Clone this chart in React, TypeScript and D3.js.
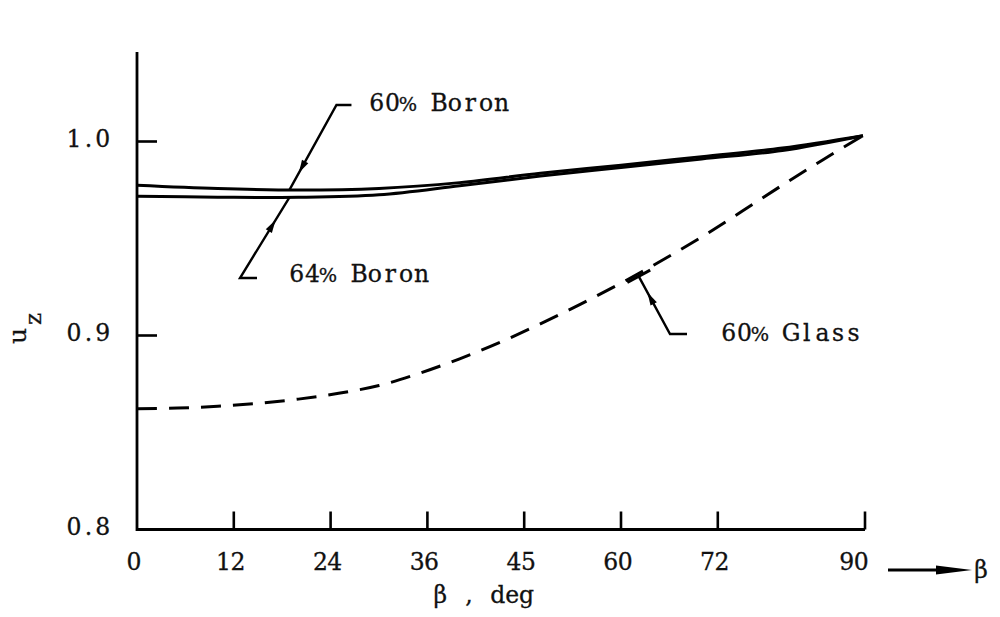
import React from "react";
import * as d3 from "d3";

// Fibre orientation angle β (deg) and the u_z factor for each laminate
const betaBoron60 = [0, 10, 20, 30, 40, 50, 60, 70, 80, 90];
const uzBoron60 = [0.9775, 0.9758, 0.975, 0.9758, 0.9788, 0.9836, 0.9878, 0.9922, 0.9966, 1.003];

const betaBoron64 = [0, 10, 20, 30, 40, 50, 60, 70, 80, 90];
const uzBoron64 = [0.9718, 0.9713, 0.9712, 0.9725, 0.9772, 0.9822, 0.9866, 0.991, 0.9954, 1.003];

const betaGlass60 = [0, 5, 10, 15, 20, 25, 30, 35, 40, 45, 50, 55, 60, 65, 70, 75, 80, 85, 90];
const uzGlass60 = [
  0.8623, 0.8626, 0.8635, 0.865, 0.8672, 0.8702, 0.8742, 0.8805, 0.888, 0.8965, 0.906, 0.9162,
  0.927, 0.9385, 0.9508, 0.964, 0.9775, 0.9905, 1.003,
];

const xTickValues = [0, 12, 24, 36, 48, 60, 72, 90];
const xTickLabels = ["0", "12", "24", "36", "45", "60", "72", "90"];
const yTickValues = [0.8, 0.9, 1.0];
const yTickLabels = ["0.8", "0.9", "1.0"];

const seriesLabels = ["60% Boron", "64% Boron", "60% Glass"];

const FONT = "'DejaVu Serif', 'Liberation Serif', serif";
const FONT_SIZE = 23.5;

type Pt = [number, number];

function arrowHead(tip: Pt, from: Pt, len = 13, half = 3.6): string {
  const dx = tip[0] - from[0];
  const dy = tip[1] - from[1];
  const m = Math.hypot(dx, dy);
  const ux = dx / m;
  const uy = dy / m;
  const bx = tip[0] - ux * len;
  const by = tip[1] - uy * len;
  return `M${tip[0]},${tip[1]}L${bx - uy * half},${by + ux * half}L${bx + uy * half},${by - ux * half}Z`;
}

function lerp(a: Pt, b: Pt, t: number): Pt {
  return [a[0] + (b[0] - a[0]) * t, a[1] + (b[1] - a[1]) * t];
}

// Fixed-pitch text: every character gets its own cell, like a typewriter.
function MonoText({
  x,
  y,
  text,
  pitch = 14.4,
  anchor = "start",
}: {
  x: number;
  y: number;
  text: string;
  pitch?: number;
  anchor?: "start" | "middle" | "end";
}) {
  const n = text.length;
  const start = anchor === "start" ? x : anchor === "end" ? x - n * pitch : x - (n * pitch) / 2;
  return (
    <g>
      {Array.from(text).map((ch, i) =>
        ch === " " ? null : (
          <text
            key={i}
            x={start + (i + 0.5) * pitch}
            y={y}
            textAnchor="middle"
            fontFamily={FONT}
            fontSize={ch === "%" ? FONT_SIZE * 0.82 : FONT_SIZE}
            fill="#111"
            stroke="#111"
            strokeWidth={0.3}
          >
            {ch}
          </text>
        )
      )}
    </g>
  );
}

export default function App() {
  const x = d3.scaleLinear().domain([0, 90]).range([137, 863]);
  const y = d3.scaleLinear().domain([0.8, 1.0]).range([529.5, 141.5]);

  const line = d3
    .line<[number, number]>()
    .x((d) => x(d[0]))
    .y((d) => y(d[1]))
    .curve(d3.curveCatmullRom.alpha(0.5));

  const boron60 = betaBoron60.map((b, i) => [b, uzBoron60[i]] as [number, number]);
  const boron64 = betaBoron64.map((b, i) => [b, uzBoron64[i]] as [number, number]);
  const glass60 = betaGlass60.map((b, i) => [b, uzGlass60[i]] as [number, number]);

  const interp = (bs: number[], us: number[], b: number) => d3.scaleLinear().domain(bs).range(us)(b);

  const axisTop = 52;
  const axisBottom = y(0.8);
  const axisRight = 865;

  // leader for 60% Boron: from the label hook down to the upper curve
  const b60Tip: Pt = [x(18.9), y(interp(betaBoron60, uzBoron60, 18.9))];
  const b60Corner: Pt = [b60Tip[0] + 47, 105];
  const b60Arrow = lerp(b60Corner, b60Tip, 0.8);

  // leader for 64% Boron: from the label hook up to the lower curve
  const b64Tip: Pt = [x(18.9), y(interp(betaBoron64, uzBoron64, 18.9))];
  const b64Corner: Pt = [240, 278];
  const b64Arrow = lerp(b64Corner, b64Tip, 0.72);

  // leader for 60% Glass: ends in a T-bar on the dashed curve
  const gTip: Pt = [x(62.2), y(interp(betaGlass60, uzGlass60, 62.2)) + 3];
  const gCorner: Pt = [670, 334];
  const gArrow = lerp(gCorner, gTip, 0.72);
  const gdx = gTip[0] - gCorner[0];
  const gdy = gTip[1] - gCorner[1];
  const gm = Math.hypot(gdx, gdy);
  const gnx = -gdy / gm;
  const gny = gdx / gm;

  return (
    <svg
      width={1000}
      height={617}
      viewBox="0 0 1000 617"
      style={{ position: "absolute", left: 0, top: 0, background: "#fff" }}
    >
      <rect x={0} y={0} width={1000} height={617} fill="#fff" />

      {/* axes */}
      <path
        d={`M137,${axisTop}V${axisBottom}H${axisRight}`}
        fill="none"
        stroke="#000"
        strokeWidth={2.8}
      />
      {xTickValues.slice(1).map((v, i) => {
        const px = v === 90 ? axisRight : x(v);
        return (
          <line key={`xt${i}`} x1={px} x2={px} y1={axisBottom} y2={axisBottom - 18} stroke="#000" strokeWidth={2.6} />
        );
      })}
      {yTickValues.slice(1).map((v, i) => (
        <line key={`yt${i}`} x1={137} x2={157} y1={y(v)} y2={y(v)} stroke="#000" strokeWidth={2.6} />
      ))}

      {/* tick labels */}
      {xTickValues.map((v, i) => (
        <MonoText
          key={`xl${i}`}
          x={(v === 90 ? axisRight : x(v)) - (v === 90 ? 11 : 3)}
          y={570}
          text={xTickLabels[i]}
          anchor="middle"
        />
      ))}
      {yTickValues.map((v, i) => (
        <MonoText key={`yl${i}`} x={110} y={y(v) + 5} text={yTickLabels[i]} anchor="end" />
      ))}

      {/* axis titles */}
      <MonoText x={433} y={603} text="β , deg" />
      <g transform="translate(26,344) rotate(-90)">
        <text x={0} y={0} fontFamily={FONT} fontSize={25} fill="#111" stroke="#111" strokeWidth={0.3}>
          u
          <tspan dx={3} dy={15} fontSize={23}>
            z
          </tspan>
        </text>
      </g>

      {/* β direction arrow */}
      <line x1={888} x2={945} y1={570} y2={570} stroke="#000" strokeWidth={3} />
      <path d={arrowHead([972, 570], [888, 570], 36, 4.5)} fill="#000" />
      <MonoText x={973} y={578} text="β" pitch={16} />

      {/* curves */}
      <path d={line(boron60) ?? ""} fill="none" stroke="#000" strokeWidth={3} />
      <path d={line(boron64) ?? ""} fill="none" stroke="#000" strokeWidth={3} />
      <path
        d={line(glass60) ?? ""}
        fill="none"
        stroke="#000"
        strokeWidth={3}
        strokeDasharray="20 12"
      />

      {/* 60% Boron label */}
      <path
        d={`M${b60Corner[0] + 15},${b60Corner[1]}H${b60Corner[0]}L${b60Tip[0]},${b60Tip[1]}`}
        fill="none"
        stroke="#000"
        strokeWidth={2.4}
      />
      <path d={arrowHead(b60Arrow, b60Corner)} fill="#000" />
      <MonoText x={369} y={111} text={seriesLabels[0]} pitch={15.6} />

      {/* 64% Boron label */}
      <path
        d={`M${b64Corner[0] + 17},${b64Corner[1]}H${b64Corner[0]}L${b64Tip[0]},${b64Tip[1]}`}
        fill="none"
        stroke="#000"
        strokeWidth={2.4}
      />
      <path d={arrowHead(b64Arrow, b64Corner)} fill="#000" />
      <MonoText x={289} y={282} text={seriesLabels[1]} pitch={15.6} />

      {/* 60% Glass label */}
      <path
        d={`M${gCorner[0] + 17},${gCorner[1]}H${gCorner[0]}L${gTip[0]},${gTip[1]}`}
        fill="none"
        stroke="#000"
        strokeWidth={2.4}
      />
      <line
        x1={gTip[0] - gnx * 13}
        y1={gTip[1] - gny * 13}
        x2={gTip[0] + gnx * 13}
        y2={gTip[1] + gny * 13}
        stroke="#000"
        strokeWidth={3}
      />
      <path d={arrowHead(gArrow, gCorner)} fill="#000" />
      <MonoText x={721} y={341} text={seriesLabels[2]} pitch={15.6} />
    </svg>
  );
}
